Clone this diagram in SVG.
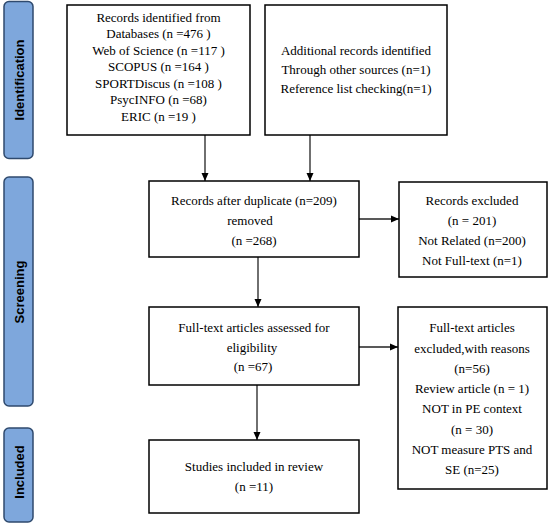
<svg xmlns="http://www.w3.org/2000/svg" width="550" height="524" viewBox="0 0 550 524">
<style>
.bar{fill:#7ea7dc;stroke:#2f4a6e;stroke-width:1.5}
.bt{font-family:"Liberation Sans",Arial,sans-serif;font-weight:bold;font-size:13px;fill:#000;text-anchor:middle}
.box{fill:#fff;stroke:#000;stroke-width:1.5}
.t{font-family:"Liberation Serif","Times New Roman",serif;font-size:13px;fill:#000;text-anchor:middle}
.c{stroke:#222;stroke-width:1.3;fill:none;marker-end:url(#ah)}
</style>
<defs>
<marker id="ah" markerWidth="8" markerHeight="8" viewBox="0 0 8 8" refX="8" refY="4" orient="auto" markerUnits="userSpaceOnUse">
<path d="M0,0.5 L8,4 L0,7.5 Z" fill="#000"/>
</marker>
</defs>
<rect width="550" height="524" fill="#fff"/>
<g id="phase-identification">
<rect class="bar" x="4" y="1.5" width="29" height="157" rx="5"/>
<text class="bt" transform="translate(23.5,80) rotate(-90)">Identification</text>
</g>
<g id="phase-screening">
<rect class="bar" x="4" y="177" width="29" height="229" rx="5"/>
<text class="bt" transform="translate(23.5,292) rotate(-90)">Screening</text>
</g>
<g id="phase-included">
<rect class="bar" x="4" y="428" width="29" height="94" rx="5"/>
<text class="bt" transform="translate(23.5,472) rotate(-90)">Included</text>
</g>
<g id="connectors">
<path class="c" d="M205,135 V181"/>
<path class="c" d="M310,135 V181"/>
<path class="c" d="M359,219 H399"/>
<path class="c" d="M258,257 V307"/>
<path class="c" d="M359,347 H398"/>
<path class="c" d="M257,385 V440"/>
</g>
<g id="n-databases">
<rect class="box" x="67" y="5" width="183" height="130"/>
<text class="t" x="158.5" y="21.5">Records identified from</text>
<text class="t" x="158.5" y="38">Databases (n =476 )</text>
<text class="t" x="158.5" y="54.5">Web of Science (n =117 )</text>
<text class="t" x="158.5" y="71">SCOPUS (n =164 )</text>
<text class="t" x="158.5" y="87.5">SPORTDiscus (n =108 )</text>
<text class="t" x="158.5" y="104">PsycINFO (n =68)</text>
<text class="t" x="158.5" y="120.5">ERIC (n =19 )</text>
</g>
<g id="n-additional">
<rect class="box" x="265" y="5" width="182" height="130"/>
<text class="t" x="356" y="55">Additional records identified</text>
<text class="t" x="356" y="74">Through other sources (n=1)</text>
<text class="t" x="356" y="93">Reference list checking(n=1)</text>
</g>
<g id="n-dedup">
<rect class="box" x="149" y="181" width="210" height="76"/>
<text class="t" x="254" y="204.5">Records after duplicate (n=209)</text>
<text class="t" x="250" y="224.5">removed</text>
<text class="t" x="254" y="244.5">(n =268)</text>
</g>
<g id="n-excluded">
<rect class="box" x="399" y="182" width="148" height="95"/>
<text class="t" x="472" y="204.5">Records excluded</text>
<text class="t" x="472" y="225">(n = 201)</text>
<text class="t" x="472" y="245">Not Related (n=200)</text>
<text class="t" x="472" y="265">Not Full-text (n=1)</text>
</g>
<g id="n-fulltext">
<rect class="box" x="149" y="307" width="210" height="78"/>
<text class="t" x="254" y="331.5">Full-text articles assessed for</text>
<text class="t" x="252" y="351.5">eligibility</text>
<text class="t" x="253" y="370.5">(n =67)</text>
</g>
<g id="n-ft-excluded">
<rect class="box" x="398" y="307" width="149" height="182"/>
<text class="t" x="472" y="332">Full-text articles</text>
<text class="t" x="472" y="352.5">excluded,with reasons</text>
<text class="t" x="472" y="373">(n=56)</text>
<text class="t" x="472" y="393">Review article (n = 1)</text>
<text class="t" x="472" y="413">NOT in PE context</text>
<text class="t" x="472" y="433.5">(n = 30)</text>
<text class="t" x="472" y="453.5">NOT measure PTS and</text>
<text class="t" x="472" y="474">SE (n=25)</text>
</g>
<g id="n-included">
<rect class="box" x="149" y="440" width="210" height="73"/>
<text class="t" x="254" y="471">Studies included in review</text>
<text class="t" x="254" y="491">(n =11)</text>
</g>
</svg>
